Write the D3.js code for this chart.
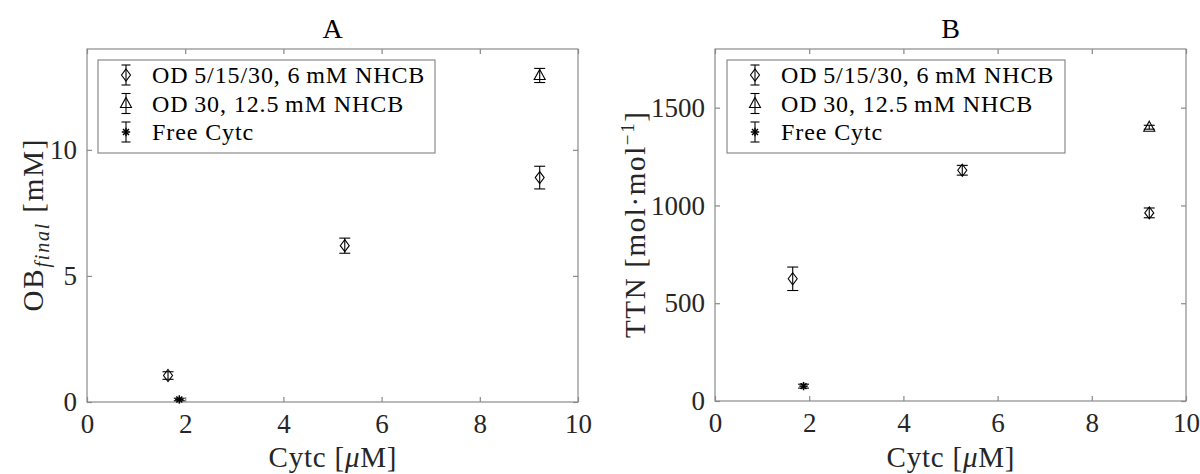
<!DOCTYPE html>
<html>
<head>
<meta charset="utf-8">
<script src="https://cdn.jsdelivr.net/npm/d3@7"></script>
<style>
  html, body { margin: 0; padding: 0; background: #fff; }
  svg { display: block; font-family: "Liberation Serif", "DejaVu Serif", serif; }
</style>
</head>
<body>
<svg id="chart" width="1200" height="474"></svg>
<script>
// Cytochrome c concentration (µM) for each condition
const cytcOD = [1.65, 5.25, 9.22];
const cytcOD30 = [9.22];
const cytcFree = [1.88];

// Panel A: final OB concentration (mM)
const obOD = [1.05, 6.2, 8.9];
const obODErr = [0.15, 0.3, 0.45];
const obOD30 = [12.95];
const obOD30Err = [0.28];
const obFree = [0.1];
const obFreeErr = [0.05];

// Panel B: total turnover number (mol·mol⁻¹)
const ttnOD = [625, 1180, 962];
const ttnODErr = [60, 25, 25];
const ttnOD30 = [1400];
const ttnOD30Err = [10];
const ttnFree = [76];
const ttnFreeErr = [10];

// Axis ticks
const xTicks = [0, 2, 4, 6, 8, 10];
const yTicksA = [0, 5, 10];
const yTicksB = [0, 500, 1000, 1500];

// Legend entries
const legendLabels = ["OD\u20095/15/30, 6\u2009mM NHCB", "OD\u200930, 12.5\u2009mM NHCB", "Free Cytc"];
const markerKinds = ["diamond", "triangle", "star"];

const svg = d3.select("#chart");
const axisColor = "#8a8a8a";
const textColor = "#262626";

function marker(g, kind, x, y) {
  if (kind === "diamond") {
    g.append("path")
      .attr("d", `M${x},${y - 6}L${x + 4.5},${y}L${x},${y + 6}L${x - 4.5},${y}Z`)
      .attr("fill", "none").attr("stroke", "#000").attr("stroke-width", 1.1);
  } else if (kind === "triangle") {
    g.append("path")
      .attr("d", `M${x},${y - 6}L${x + 5.5},${y + 4}L${x - 5.5},${y + 4}Z`)
      .attr("fill", "none").attr("stroke", "#000").attr("stroke-width", 1.1);
  } else {
    const r = 4.2;
    const s = g.append("g").attr("stroke", "#000").attr("stroke-width", 1.5);
    s.append("line").attr("x1", x - r).attr("x2", x + r).attr("y1", y).attr("y2", y);
    s.append("line").attr("x1", x).attr("x2", x).attr("y1", y - r).attr("y2", y + r);
    s.append("line").attr("x1", x - r * 0.7).attr("x2", x + r * 0.7).attr("y1", y - r * 0.7).attr("y2", y + r * 0.7);
    s.append("line").attr("x1", x - r * 0.7).attr("x2", x + r * 0.7).attr("y1", y + r * 0.7).attr("y2", y - r * 0.7);
  }
}

function errorBar(g, x, yTop, yBot, cap) {
  const e = g.append("g").attr("stroke", "#000").attr("stroke-width", 1.1);
  e.append("line").attr("x1", x).attr("x2", x).attr("y1", yTop).attr("y2", yBot);
  e.append("line").attr("x1", x - cap).attr("x2", x + cap).attr("y1", yTop).attr("y2", yTop);
  e.append("line").attr("x1", x - cap).attr("x2", x + cap).attr("y1", yBot).attr("y2", yBot);
}

function drawPanel(cfg) {
  const x = d3.scaleLinear().domain([0, 10]).range([cfg.left, cfg.right]);
  const y = d3.scaleLinear().domain([0, cfg.yMax]).range([cfg.bottom, cfg.top]);
  const g = svg.append("g");

  // Axes with inward ticks on all four sides
  const tick = 5;
  const bottomAxis = d3.axisBottom(x).tickValues(xTicks).tickSize(-tick).tickPadding(12).tickFormat(d3.format("d"));
  const topAxis = d3.axisTop(x).tickValues(xTicks).tickSize(-tick).tickFormat("");
  const leftAxis = d3.axisLeft(y).tickValues(cfg.yTicks).tickSize(-tick).tickPadding(10).tickFormat(d3.format("d"));
  const rightAxis = d3.axisRight(y).tickValues(cfg.yTicks).tickSize(-tick).tickFormat("");

  const styleAxis = sel => {
    sel.attr("font-size", 27).attr("font-family", "Liberation Serif, serif");
    sel.select(".domain").attr("stroke", axisColor).attr("stroke-width", 1.2);
    sel.selectAll(".tick line").attr("stroke", axisColor).attr("stroke-width", 1.2);
    sel.selectAll(".tick text").attr("fill", textColor);
  };

  g.append("g").attr("transform", `translate(0,${cfg.bottom})`).call(bottomAxis).call(styleAxis);
  g.append("g").attr("transform", `translate(0,${cfg.top})`).call(topAxis).call(styleAxis);
  g.append("g").attr("transform", `translate(${cfg.left},0)`).call(leftAxis).call(styleAxis);
  g.append("g").attr("transform", `translate(${cfg.right},0)`).call(rightAxis).call(styleAxis);
  g.selectAll(".domain").attr("d", null);
  g.append("rect")
    .attr("x", cfg.left).attr("y", cfg.top)
    .attr("width", cfg.right - cfg.left).attr("height", cfg.bottom - cfg.top)
    .attr("fill", "none").attr("stroke", axisColor).attr("stroke-width", 1.2);

  // Title
  g.append("text").attr("x", (cfg.left + cfg.right) / 2).attr("y", 38)
    .attr("text-anchor", "middle").attr("font-size", 28).attr("fill", "#000").text(cfg.title);

  // X label
  const xl = g.append("text").attr("x", (cfg.left + cfg.right) / 2).attr("y", 467)
    .attr("text-anchor", "middle").attr("font-size", 29).attr("fill", textColor)
    .attr("textLength", 128).attr("lengthAdjust", "spacing");
  xl.append("tspan").text("Cytc [");
  xl.append("tspan").attr("font-style", "italic").text("\u03bc");
  xl.append("tspan").text("M]");

  // Y label
  const yl = g.append("text")
    .attr("transform", `translate(${cfg.yLabelX},${(cfg.top + cfg.bottom) / 2}) rotate(-90)`)
    .attr("text-anchor", "middle").attr("font-size", 29).attr("fill", textColor)
    .attr("textLength", cfg.yLabelLen).attr("lengthAdjust", "spacing");
  cfg.yLabel(yl);

  // Data series
  const series = [
    { kind: "diamond", xs: cytcOD, ys: cfg.od, es: cfg.odErr },
    { kind: "triangle", xs: cytcOD30, ys: cfg.od30, es: cfg.od30Err },
    { kind: "star", xs: cytcFree, ys: cfg.free, es: cfg.freeErr }
  ];
  series.forEach(s => {
    s.xs.forEach((cx, i) => {
      const px = x(cx);
      errorBar(g, px, y(s.ys[i] + s.es[i]), y(s.ys[i] - s.es[i]), 5.5);
      marker(g, s.kind, px, y(s.ys[i]));
    });
  });

  // Legend
  const lg = g.append("g");
  lg.append("rect").attr("x", cfg.legX).attr("y", 60).attr("width", cfg.legW).attr("height", 93)
    .attr("fill", "#fff").attr("stroke", axisColor).attr("stroke-width", 1.2);
  legendLabels.forEach((lab, i) => {
    const cy = 75 + i * 28.5;
    const mx = cfg.legX + 28;
    errorBar(lg, mx, cy - 10, cy + 10, 4.5);
    marker(lg, markerKinds[i], mx, cy);
    lg.append("text").attr("x", cfg.legX + 54).attr("y", cy + 8)
      .attr("font-size", 24).attr("letter-spacing", 0.9).attr("fill", "#000").text(lab);
  });
}

drawPanel({
  title: "A", left: 87, right: 578, top: 49, bottom: 402, yMax: 14,
  yTicks: yTicksA, od: obOD, odErr: obODErr, od30: obOD30, od30Err: obOD30Err,
  free: obFree, freeErr: obFreeErr, legX: 98, legW: 337,
  yLabelX: 43, yLabelLen: 172,
  yLabel: t => {
    t.append("tspan").text("OB");
    t.append("tspan").attr("font-style", "italic").attr("font-size", 20).attr("dy", 6).text("final");
    t.append("tspan").attr("dy", -6).text(" [mM]");
  }
});

drawPanel({
  title: "B", left: 715, right: 1186, top: 49, bottom: 401, yMax: 1800,
  yTicks: yTicksB, od: ttnOD, odErr: ttnODErr, od30: ttnOD30, od30Err: ttnOD30Err,
  free: ttnFree, freeErr: ttnFreeErr, legX: 727, legW: 338,
  yLabelX: 645, yLabelLen: 226,
  yLabel: t => {
    t.append("tspan").text("TTN [mol\u00b7mol");
    t.append("tspan").attr("font-size", 19).attr("dy", -11).text("\u22121");
    t.append("tspan").attr("dy", 11).text("]");
  }
});
</script>
</body>
</html>
